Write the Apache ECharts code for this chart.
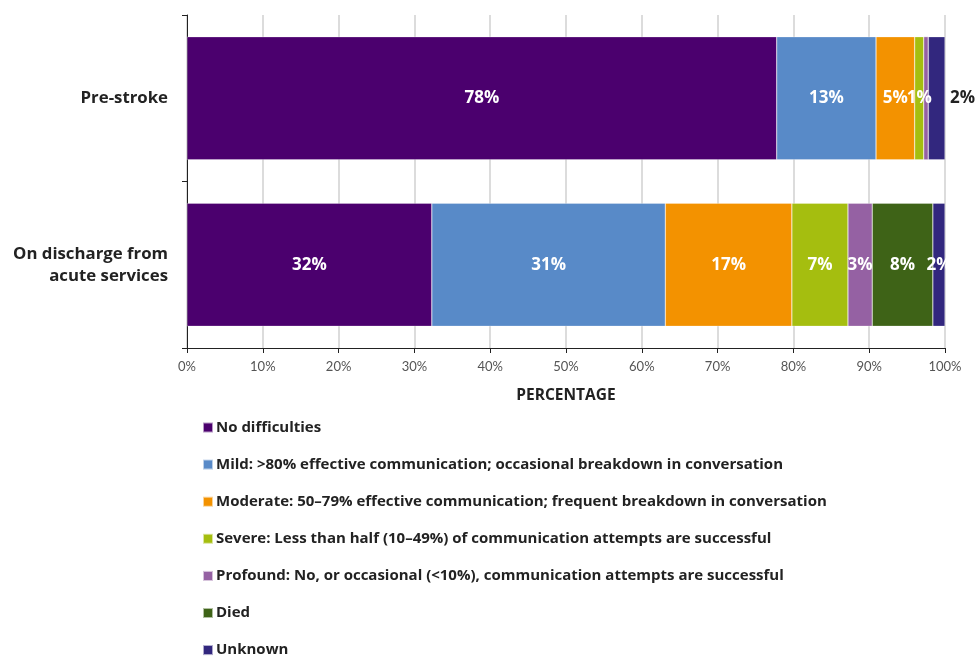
<!DOCTYPE html>
<html>
<head>
<meta charset="utf-8">
<script src="https://cdn.jsdelivr.net/npm/echarts@6/dist/echarts.min.js"></script>
<style>
  html, body { margin: 0; padding: 0; background: #fff; }
  #chart { width: 978px; height: 657px; }
</style>
</head>
<body>
<div id="chart"></div>
<script>
const categories = ['Pre-stroke', 'On discharge from\nacute services'];
const seriesNames = [
    'No difficulties',
    'Mild: >80% effective communication; occasional breakdown in conversation',
    'Moderate: 50\u201379% effective communication; frequent breakdown in conversation',
    'Severe: Less than half (10\u201349%) of communication attempts are successful',
    'Profound: No, or occasional (<10%), communication attempts are successful',
    'Died',
    'Unknown'
];
// values per series: [pre-stroke, on discharge]
const noDifficulties = [77.8, 32.3];
const mild = [13.1, 30.8];
const moderate = [5.1, 16.7];
const severe = [1.2, 7.4];
const profound = [0.6, 3.2];
const died = [0, 8.0];
const unknown = [2.2, 1.6];
const xTicks = [0, 10, 20, 30, 40, 50, 60, 70, 80, 90, 100];

const colors = ['#4b006e', '#588ac8', '#f39200', '#a5be0f', '#9561a3', '#3e6317', '#32277e'];
const allValues = [noDifficulties, mild, moderate, severe, profound, died, unknown];
const font = '"Open Sans"';

const myChart = echarts.init(document.getElementById('chart'));

const series = allValues.map((vals, s) => ({
    name: seriesNames[s],
    type: 'bar',
    stack: 'total',
    barWidth: '74%',
    itemStyle: { color: colors[s], borderColor: 'rgba(255,255,255,0.6)', borderWidth: 0.5 },
    label: {
        show: true,
        position: 'inside',
        color: '#fff',
        fontFamily: font,
        fontWeight: 'bold',
        fontSize: 17,
        formatter: p => p.value >= 1 ? Math.round(p.value) + '%' : ''
    },
    data: vals.map((v, i) => {
        // the small unknown slice of the first bar is labelled outside in black
        if (s === allValues.length - 1 && i === 0) {
            return { value: v, label: { position: 'right', color: '#222', distance: 5 } };
        }
        return v;
    })
}));

const option = {
    animation: false,
    color: colors,
    grid: { left: 187, right: 33, top: 15, bottom: 309 },
    legend: {
        orient: 'vertical',
        left: 202,
        top: 420,
        height: 400,
        padding: 0,
        itemWidth: 10,
        itemHeight: 10,
        itemGap: 22.1,
        icon: 'rect',
        data: seriesNames,
        selectedMode: false,
        textStyle: { fontFamily: font, fontWeight: 'bold', fontSize: 15, color: '#222', lineHeight: 12, padding: [0, 0, 0, -2] }
    },
    xAxis: {
        type: 'value',
        min: 0,
        max: 100,
        interval: 10,
        name: 'PERCENTAGE',
        nameLocation: 'middle',
        nameGap: 40,
        nameTextStyle: { fontFamily: font, fontWeight: 'bold', fontSize: 15.5, color: '#222' },
        axisLine: { show: true, lineStyle: { color: '#222', width: 1 } },
        axisTick: { show: true, length: 5, lineStyle: { color: '#222' } },
        axisLabel: {
            fontFamily: 'Lato', fontSize: 13, color: '#555', margin: 12,
            formatter: v => xTicks.includes(v) ? v + '%' : ''
        },
        splitLine: { show: true, lineStyle: { color: '#dcdcdc', width: 2 } }
    },
    yAxis: {
        type: 'category',
        inverse: true,
        data: categories,
        axisLine: { show: true, lineStyle: { color: '#222', width: 1 } },
        axisTick: { show: true, length: 5, lineStyle: { color: '#222' } },
        axisLabel: {
            fontFamily: font, fontWeight: 'bold', fontSize: 16.8, color: '#222',
            margin: 19, align: 'right', lineHeight: 22
        }
    },
    series: series
};

myChart.setOption(option);
</script>
</body>
</html>
